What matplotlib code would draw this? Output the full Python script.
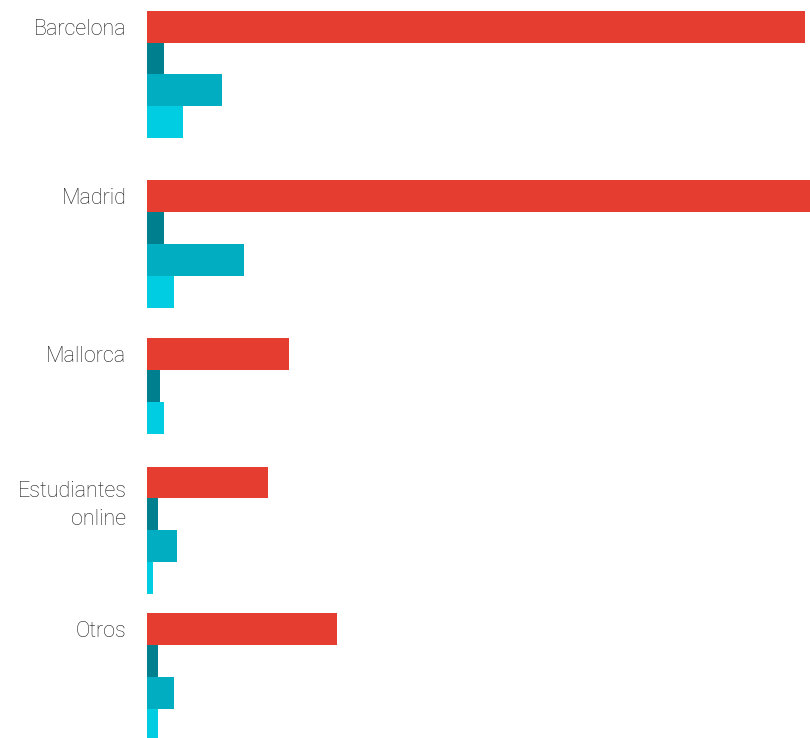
import matplotlib.pyplot as plt

# Categorías y series (None = sin dato, la barra no ocupa hueco)
categorias = ["Barcelona", "Madrid", "Mallorca", "Estudiantes\nonline", "Otros"]
serie_1 = [99.2, 104.0, 21.4, 18.3, 28.6]
serie_2 = [2.6, 2.6, 1.9, 1.7, 1.7]
serie_3 = [11.3, 14.6, None, 4.5, 4.1]
serie_4 = [5.4, 4.1, 2.6, 0.9, 1.7]

colores = ["#e53e31", "#00808e", "#00adc1", "#00cde1"]

# Separación entre grupos (en alturas de barra)
inicio = 0.335
huecos = [1.32, 0.94, 1.03, 0.6]

fig = plt.figure(figsize=(8.1, 7.38), dpi=100)
ax = fig.add_axes([147 / 810, 0, 663 / 810, 1])

series = [serie_1, serie_2, serie_3, serie_4]
y = inicio
for i, cat in enumerate(categorias):
    y_cat = y
    for s, color in zip(series, colores):
        v = s[i]
        if v is None:
            continue
        ax.barh(y, v, height=1.0, align="edge", color=color, linewidth=0)
        y += 1
    n_lineas = cat.count("\n") + 1
    ax.text(-0.031, y_cat + 0.58 + 0.64 * (n_lineas - 1), cat,
            transform=ax.get_yaxis_transform(), ha="right", va="center",
            fontsize=15.5, color="#1c1c1c", family="Roboto",
            fontweight="light", linespacing=1.42)
    if i < len(huecos):
        y += huecos[i]

ax.set_xlim(0, 100)
ax.set_ylim(738 / 31.9, 0)
ax.axis("off")

fig.savefig("out.png", dpi=100)
